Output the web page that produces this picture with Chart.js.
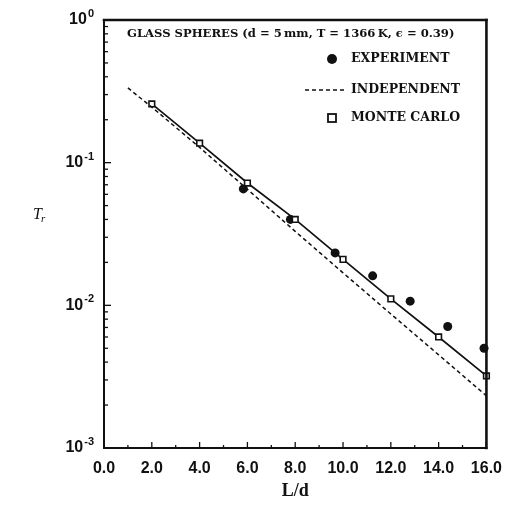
<!DOCTYPE html>
<html>
<head>
<meta charset="utf-8">
<script src="https://cdn.jsdelivr.net/npm/chart.js@4/dist/chart.umd.min.js"></script>
<style>
  html, body { margin: 0; padding: 0; background: #fff; }
  #wrap { width: 513px; height: 506px; }
</style>
</head>
<body>
<div id="wrap"><canvas id="c" width="513" height="506"></canvas></div>
<script>
// Transmittance through a packed bed of glass spheres vs. dimensionless bed depth
const expLd = [5.83, 7.8, 9.67, 11.24, 12.81, 14.38, 15.9];
const expTr = [0.0655, 0.040, 0.0233, 0.0161, 0.0107, 0.0071, 0.0050];

const mcLd = [2, 4, 6, 8, 10, 12, 14, 16];
const mcTr = [0.258, 0.137, 0.072, 0.040, 0.021, 0.0111, 0.0060, 0.0032];

const indLd = [1, 2, 4, 6, 8, 10, 12, 14, 16];
const indTr = [0.334, 0.245, 0.128, 0.065, 0.033, 0.0169, 0.0087, 0.0045, 0.00232];

const xTickStep = 2;
const yDecades = [1, 0.1, 0.01, 0.001];
const yDecadeExps = ['0', '-1', '-2', '-3'];

const chartTitle = 'GLASS SPHERES (d = 5\u2009mm, T = 1366\u2009K, \u03F5 = 0.39)';
const legendLabels = ['EXPERIMENT', 'INDEPENDENT', 'MONTE CARLO'];

const INK = '#111';
const TITLE_FONT = 'bold 11.6px "DejaVu Serif"';
const LEGEND_FONT = 'bold 12.5px "DejaVu Serif"';
const toPts = (xs, ys) => xs.map((x, i) => ({ x: x, y: ys[i] }));

const decorPlugin = {
  id: 'decor',
  afterDraw(chart) {
    const ctx = chart.ctx;
    const a = chart.chartArea;
    const xs = chart.scales.x, ys = chart.scales.y;
    ctx.save();
    ctx.strokeStyle = INK;
    ctx.fillStyle = INK;

    // frame: heavier on top and right
    ctx.lineCap = 'square';
    ctx.lineWidth = 2;
    ctx.beginPath(); ctx.moveTo(a.left, a.top); ctx.lineTo(a.left, a.bottom); ctx.stroke();
    ctx.beginPath(); ctx.moveTo(a.left, a.bottom); ctx.lineTo(a.right, a.bottom); ctx.stroke();
    ctx.lineWidth = 2.6;
    ctx.beginPath(); ctx.moveTo(a.left, a.top); ctx.lineTo(a.right, a.top); ctx.stroke();
    ctx.beginPath(); ctx.moveTo(a.right, a.top); ctx.lineTo(a.right, a.bottom); ctx.stroke();

    // inward ticks on the log axis
    ctx.lineWidth = 1.3;
    ctx.lineCap = 'butt';
    for (let d = 0.001; d < 1; d *= 10) {
      for (let m = 1; m <= 9; m++) {
        const py = ys.getPixelForValue(m * d);
        const len = m === 1 ? 7 : 4;
        ctx.beginPath(); ctx.moveTo(a.left, py); ctx.lineTo(a.left + len, py); ctx.stroke();
      }
    }
    // inward ticks on the L/d axis
    for (let v = xs.min; v <= xs.max; v++) {
      const px = xs.getPixelForValue(v);
      const len = v % xTickStep === 0 ? 6 : 3;
      ctx.beginPath(); ctx.moveTo(px, a.bottom); ctx.lineTo(px, a.bottom - len); ctx.stroke();
    }

    // decade labels with superscript exponents
    ctx.textBaseline = 'middle';
    yDecades.forEach((v, i) => {
      const py = ys.getPixelForValue(v);
      const right = a.left - 10;
      ctx.font = 'bold 11px "Liberation Sans"';
      const ew = ctx.measureText(yDecadeExps[i]).width;
      ctx.textAlign = 'left';
      ctx.fillText(yDecadeExps[i], right - ew, py - 6);
      ctx.font = 'bold 16px "Liberation Sans"';
      ctx.textAlign = 'right';
      ctx.fillText('10', right - ew - 1, py);
    });

    // y-axis title T_r
    const ty = 215;
    ctx.textAlign = 'left';
    ctx.font = 'italic 16px "Liberation Serif"';
    ctx.fillText('T', 33, ty);
    const tw = ctx.measureText('T').width;
    ctx.font = 'italic 11px "Liberation Serif"';
    ctx.fillText('r', 33 + tw - 1, ty + 4);

    // caption inside the plot
    ctx.font = TITLE_FONT;
    ctx.textAlign = 'left';
    ctx.fillText(chartTitle, 127, 34);

    // legend
    const lx = 351;
    const rows = [59, 90, 118];
    ctx.font = LEGEND_FONT;
    legendLabels.forEach((t, i) => ctx.fillText(t, lx, rows[i]));
    ctx.beginPath(); ctx.arc(332, rows[0], 5, 0, Math.PI * 2); ctx.fill();
    ctx.lineWidth = 1.5;
    ctx.setLineDash([4, 3]);
    ctx.beginPath(); ctx.moveTo(305, rows[1]); ctx.lineTo(347, rows[1]); ctx.stroke();
    ctx.setLineDash([]);
    ctx.lineWidth = 1.8;
    ctx.strokeRect(328, rows[2] - 4, 8, 8);

    ctx.restore();
  }
};

new Chart(document.getElementById('c'), {
  type: 'scatter',
  data: {
    datasets: [
      {
        label: legendLabels[1],
        data: toPts(indLd, indTr),
        showLine: true,
        borderColor: INK,
        borderWidth: 1.5,
        borderDash: [4, 3],
        pointRadius: 0,
        clip: 8
      },
      {
        label: legendLabels[2],
        data: toPts(mcLd, mcTr),
        showLine: true,
        borderColor: INK,
        borderWidth: 1.7,
        pointStyle: 'rect',
        pointRadius: 4,
        pointBorderWidth: 1.6,
        pointBorderColor: INK,
        pointBackgroundColor: '#fff',
        clip: 8
      },
      {
        label: legendLabels[0],
        data: toPts(expLd, expTr),
        showLine: false,
        pointStyle: 'circle',
        pointRadius: 4.5,
        pointBorderWidth: 0,
        pointBackgroundColor: INK,
        borderColor: INK,
        clip: 8
      }
    ]
  },
  options: {
    responsive: false,
    animation: false,
    events: [],
    layout: { padding: { top: 20, right: 22, left: 0, bottom: 0 } },
    plugins: { legend: { display: false }, tooltip: { enabled: false } },
    scales: {
      x: {
        type: 'linear',
        min: 0,
        max: 16,
        grid: { display: false, drawTicks: false },
        border: { display: false },
        ticks: {
          stepSize: xTickStep,
          padding: 11,
          color: INK,
          font: { family: '"Liberation Sans"', size: 16, weight: 'bold' },
          callback: v => v.toFixed(1)
        },
        title: {
          display: true,
          text: 'L/d',
          color: INK,
          font: { family: '"Liberation Serif"', size: 18, weight: 'bold' },
          padding: { top: 2, bottom: 4 }
        },
        afterFit: s => { s.height = 58; }
      },
      y: {
        type: 'logarithmic',
        min: 0.001,
        max: 1,
        grid: { display: false, drawTicks: false },
        border: { display: false },
        ticks: { display: false },
        afterFit: s => { s.width = 104; }
      }
    }
  },
  plugins: [decorPlugin]
});
</script>
</body>
</html>
